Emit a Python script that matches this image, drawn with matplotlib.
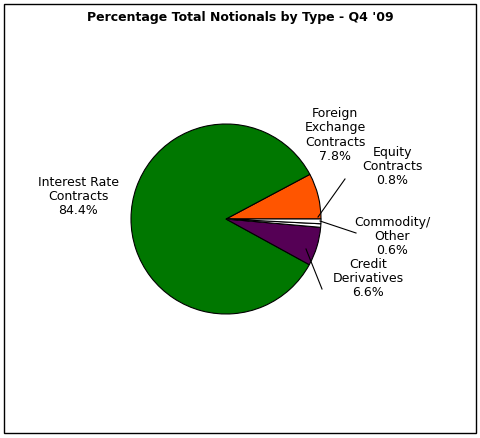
import matplotlib
matplotlib.use("Agg")
import matplotlib.pyplot as plt
from matplotlib.patches import Rectangle

labels = ["Foreign\nExchange\nContracts\n7.8%", "Interest Rate\nContracts\n84.4%", "Credit\nDerivatives\n6.6%", "Commodity/\nOther\n0.6%", "Equity\nContracts\n0.8%"]
values = [7.8, 84.4, 6.6, 0.6, 0.8]
colors = ["#ff5500", "#007700", "#550055", "#ffffff", "#ffffff"]

W, H = 480, 439
fig = plt.figure(figsize=(W/100, H/100), dpi=100)
fig.patches.append(Rectangle((4/W, 5/H), 472/W, 429/H, transform=fig.transFigure,
                             fill=False, edgecolor="black", lw=1))
fig.text(0.5, 1-18/H, "Percentage Total Notionals by Type - Q4 '09", ha="center", va="center",
         fontsize=9, fontweight="bold", family="DejaVu Sans")

r = 95
cx, cy = 226, 220
ax = fig.add_axes([(cx-r)/W, 1-(cy+r)/H, 2*r/W, 2*r/H])
ax.pie(values, colors=colors, startangle=0, counterclock=True,
       wedgeprops=dict(edgecolor="black", linewidth=0.8))
ax.set_xlim(-1, 1); ax.set_ylim(-1, 1)
ax.set_aspect("auto")

def fx(x): return x / W
def fy(y): return 1 - y / H
fs = 9
fig.text(fx(335), fy(135), labels[0], ha="center", va="center", fontsize=fs, linespacing=1.1)
fig.text(fx(78), fy(197), labels[1], ha="center", va="center", fontsize=fs, linespacing=1.1)
fig.text(fx(368), fy(278), labels[2], ha="center", va="center", fontsize=fs, linespacing=1.1)
fig.text(fx(392), fy(237), labels[3], ha="center", va="center", fontsize=fs, linespacing=1.1)
fig.text(fx(392), fy(167), labels[4], ha="center", va="center", fontsize=fs, linespacing=1.1)
for (x1, y1, x2, y2) in [(318, 218, 345, 180), (320, 222, 356, 234), (306, 250, 322, 290)]:
    fig.add_artist(plt.Line2D([fx(x1), fx(x2)], [fy(y1), fy(y2)], color="black", lw=0.8,
                              transform=fig.transFigure))
fig.savefig("out.png", dpi=100)
